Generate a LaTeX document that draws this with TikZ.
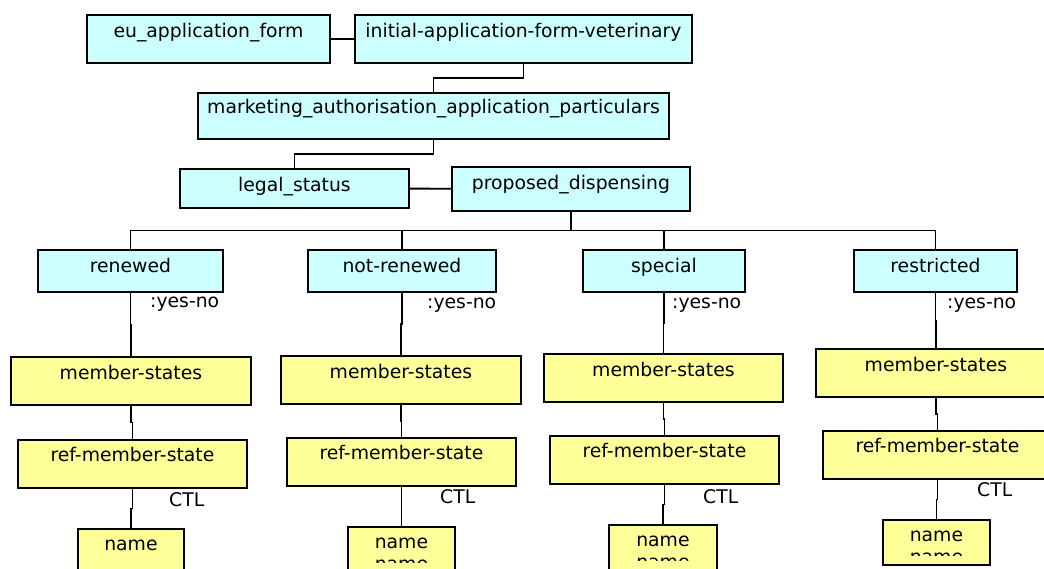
\documentclass[tikz,border=0pt]{standalone}
\usepackage{fontspec}
\setmainfont{DejaVu Sans}
\usetikzlibrary{calc}
\definecolor{boxcyan}{RGB}{204,255,255}
\definecolor{boxyellow}{RGB}{255,255,153}

\begin{document}
\begin{tikzpicture}[x=1pt,y=-1pt,
  box/.style={draw,line width=1.9pt,anchor=north west,inner sep=0pt,
    font=\fontsize{18.8}{22}\selectfont,text height=23pt},
  cbox/.style={box,fill=boxcyan},
  ybox/.style={box,fill=boxyellow},
  lbl/.style={anchor=base west,inner sep=0pt,font=\fontsize{18.8}{22}\selectfont},
  link/.style={line width=1.9pt},
  elbow/.style={to path={|- ($(\tikztostart)!0.5!(\tikztotarget)$) -| (\tikztotarget) \tikztonodes}}]
  \useasboundingbox (0,0) rectangle (1044,568);
  \clip (0,0) rectangle (1044,568);
  % top of the tree
  \node[cbox,minimum width=243pt,text depth=25pt] (euform) at (86,14) {eu\_application\_form};
  \node[cbox,minimum width=337pt,text depth=25pt] (initform) at (354,14) {initial-application-form-veterinary};
  \node[cbox,minimum width=471pt,text height=21pt,text depth=25pt] (mktg) at (197,92) {marketing\_authorisation\_application\_particulars};
  \node[cbox,minimum width=229pt,text depth=16pt] (legal) at (179,168) {legal\_status};
  \node[cbox,minimum width=238pt,text depth=21pt] (propdisp) at (451,166) {proposed\_dispensing};
  % dispensing kinds
  \node[cbox,minimum width=185pt,text depth=19pt] (renewed) at (37,249) {renewed};
  \node[cbox,minimum width=188pt,text depth=19pt] (notrenewed) at (307,249) {not-renewed};
  \node[cbox,minimum width=162pt,text depth=19pt] (special) at (582,249) {special};
  \node[cbox,minimum width=163pt,text depth=19pt] (restricted) at (853,249) {restricted};
  \node[lbl] (yn1) at (150,307) {:yes-no};
  \node[lbl] (yn2) at (427,308) {:yes-no};
  \node[lbl] (yn3) at (672,308) {:yes-no};
  \node[lbl] (yn4) at (947,308) {:yes-no};
  % member states
  \node[ybox,minimum width=240pt,text depth=25pt] (ms1) at (10,356) {member-states};
  \node[ybox,minimum width=240pt,text depth=25pt] (ms2) at (280,355) {member-states};
  \node[ybox,minimum width=239pt,text depth=25pt] (ms3) at (543,353) {member-states};
  \node[ybox,minimum width=240pt,text depth=25pt] (ms4) at (815,348) {member-states};
  \node[ybox,minimum width=229pt,text height=22pt,text depth=26pt] (rms1) at (17,439) {ref-member-state};
  \node[ybox,minimum width=229pt,text height=22pt,text depth=26pt] (rms2) at (286,437) {ref-member-state};
  \node[ybox,minimum width=229pt,text height=22pt,text depth=26pt] (rms3) at (549,435) {ref-member-state};
  \node[ybox,minimum width=229pt,text height=22pt,text depth=26pt] (rms4) at (822,430) {ref-member-state};
  \node[lbl] (ctl1) at (169,506) {CTL};
  \node[lbl] (ctl2) at (440,503) {CTL};
  \node[lbl] (ctl3) at (703,503) {CTL};
  \node[lbl] (ctl4) at (977,496) {CTL};
  \node[ybox,minimum width=106pt,text height=22pt,text depth=23pt] (nm1) at (77,528) {name};
  \node[ybox,minimum width=107pt,text height=22pt,text depth=23pt] (nm2) at (347,526) {name};
  \node[ybox,minimum width=108pt,text height=22pt,text depth=23pt] (nm3) at (608,524) {name};
  \node[ybox,minimum width=107pt,text height=22pt,text depth=23pt] (nm4) at (882,519) {name};
  \foreach \n in {nm2,nm3,nm4}{
    \begin{scope}
      \clip ([yshift=-2pt]\n.base west) rectangle ([yshift=10pt]\n.south east);
      \node[lbl,anchor=base] at ([yshift=-22pt]\n.base) {name};
    \end{scope}
  }
  % connectors
  \draw[link] (euform) -- (initform);
  \draw[link] (initform.south) to[elbow] (mktg.north);
  \draw[link] (mktg.south) to[elbow] (legal.north);
  \draw[link] (legal) -- (propdisp);
  \draw[link] (propdisp.south) to[elbow] (renewed.north);
  \draw[link] (propdisp.south) to[elbow] (notrenewed.north);
  \draw[link] (propdisp.south) to[elbow] (special.north);
  \draw[link] (propdisp.south) to[elbow] (restricted.north);
  \draw[link] (renewed.south) to[elbow] (ms1.north);
  \draw[link] (notrenewed.south) to[elbow] (ms2.north);
  \draw[link] (special.south) to[elbow] (ms3.north);
  \draw[link] (restricted.south) to[elbow] (ms4.north);
  \draw[link] (ms1.south) to[elbow] (rms1.north);
  \draw[link] (ms2.south) to[elbow] (rms2.north);
  \draw[link] (ms3.south) to[elbow] (rms3.north);
  \draw[link] (ms4.south) to[elbow] (rms4.north);
  \draw[link] (rms1.south) to[elbow] (nm1.north);
  \draw[link] (rms2.south) to[elbow] (nm2.north);
  \draw[link] (rms3.south) to[elbow] (nm3.north);
  \draw[link] (rms4.south) to[elbow] (nm4.north);
\end{tikzpicture}
\end{document}
